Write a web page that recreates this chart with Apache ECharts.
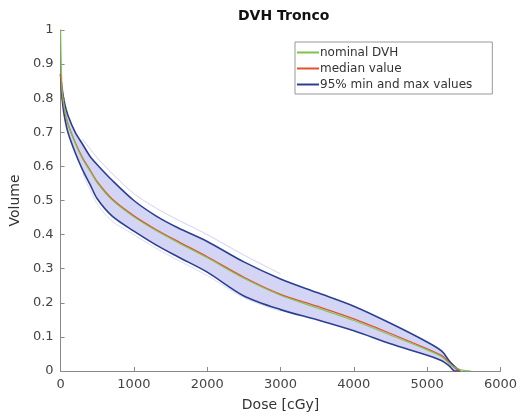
<!DOCTYPE html>
<html><head><meta charset="utf-8">
<script src="https://cdn.jsdelivr.net/npm/echarts@6/dist/echarts.min.js"></script>
<style>html,body{margin:0;padding:0;background:#fff}#c{width:520px;height:417px}</style>
</head><body><div id="c"></div>
<script>
var dose    = [0, 20, 50, 100, 200, 300, 400, 500, 700, 1000, 1300, 1600, 2000, 2500, 3000, 3500, 4000, 4500, 5000, 5200, 5300, 5380, 5450];
var upper   = [0.87, 0.83, 0.79, 0.75, 0.70, 0.665, 0.63, 0.605, 0.56, 0.50, 0.455, 0.42, 0.38, 0.32, 0.27, 0.23, 0.19, 0.14, 0.085, 0.058, 0.03, 0.012, 0];
var lower   = [0.87, 0.80, 0.75, 0.70, 0.64, 0.59, 0.548, 0.505, 0.455, 0.41, 0.37, 0.335, 0.29, 0.22, 0.18, 0.15, 0.118, 0.08, 0.046, 0.03, 0.015, 0, 0];
var median  = [0.87, 0.815, 0.77, 0.725, 0.67, 0.625, 0.59, 0.555, 0.505, 0.455, 0.415, 0.38, 0.335, 0.275, 0.225, 0.19, 0.153, 0.11, 0.065, 0.045, 0.025, 0.008, 0];
var nomDose = [0, 10, 20, 50, 100, 200, 300, 400, 500, 700, 1000, 1300, 1600, 2000, 2500, 3000, 3500, 4000, 4500, 5000, 5200, 5300, 5380, 5450, 5500, 5600];
var nominal = [1.0, 0.9, 0.83, 0.775, 0.725, 0.668, 0.622, 0.587, 0.552, 0.502, 0.452, 0.412, 0.377, 0.332, 0.272, 0.222, 0.185, 0.148, 0.105, 0.062, 0.042, 0.022, 0.01, 0.004, 0.002, 0];
var sampleDose = [300, 500, 700, 1000, 1300, 1600, 2000, 2500, 3000];
var sampleA    = [0.68, 0.625, 0.58, 0.52, 0.478, 0.443, 0.40, 0.34, 0.285];
var sampleB    = [0.58, 0.49, 0.44, 0.40, 0.36, 0.325, 0.28, 0.215, 0.175];
var xTicks = [0, 1000, 2000, 3000, 4000, 5000, 6000];
var yTicks = [0, 0.1, 0.2, 0.3, 0.4, 0.5, 0.6, 0.7, 0.8, 0.9, 1];

function pairs(xs, ys){ return xs.map(function(x,i){ return [x, ys[i]]; }); }

var FONT = 'DejaVu Sans';
var chart = echarts.init(document.getElementById('c'), null, {renderer:'canvas'});
var common = {smooth:0.3, showSymbol:false, symbol:'none'};
chart.setOption({
  animation:false,
  backgroundColor:'#fff',
  title:{text:'DVH Tronco', left:233, top:4,
    textStyle:{fontFamily:FONT, fontSize:14, fontWeight:'bold', color:'#111'}},
  legend:{
    orient:'vertical', left:295, top:42,
    data:['nominal DVH','median value','95% min and max values'],
    icon:'rect', itemWidth:22, itemHeight:2, itemGap:3,
    padding:[4,20,3,2], borderColor:'#999', borderWidth:1,
    textStyle:{fontFamily:FONT, fontSize:12, lineHeight:13, color:'#333', padding:[0,0,0,-4]}
  },
  grid:{left:60, right:17, top:30, bottom:41},
  xAxis:{type:'value', min:0, max:6000, interval:1000,
    name:'Dose [cGy]', nameLocation:'middle', nameGap:27,
    nameTextStyle:{fontFamily:FONT, fontSize:14, color:'#333'},
    axisLine:{lineStyle:{color:'#888'}}, axisTick:{inside:true, length:4, lineStyle:{color:'#888'}},
    axisLabel:{fontFamily:FONT, fontSize:13, color:'#444', margin:7,
      formatter:function(v){ return xTicks.indexOf(v)>=0 ? String(v) : ''; }},
    splitLine:{show:false}},
  yAxis:{type:'value', min:0, max:1, interval:0.1,
    name:'Volume', nameLocation:'middle', nameGap:32,
    nameTextStyle:{fontFamily:FONT, fontSize:14, color:'#333'},
    axisLine:{show:true, lineStyle:{color:'#888'}}, axisTick:{show:true, inside:true, length:4, lineStyle:{color:'#888'}},
    axisLabel:{fontFamily:FONT, fontSize:13, color:'#444', margin:7,
      formatter:function(v){ var s = Math.round(v*10)/10; return yTicks.indexOf(s)>=0 ? String(s) : ''; }},
    splitLine:{show:false}},
  series:[
    {type:'custom', name:'band', silent:true, z:1, data:[[0,0]],
      renderItem:function(params, api){
        if (params.dataIndex > 0) return;
        var pts = [];
        for (var i=0;i<dose.length;i++) pts.push(api.coord([dose[i], upper[i]]));
        for (var j=dose.length-1;j>=0;j--) pts.push(api.coord([dose[j], lower[j]]));
        return {type:'polygon', shape:{points:pts, smooth:0.3},
          style:{fill:'rgba(160,160,230,0.45)', stroke:null}};
      }},
    Object.assign({type:'line', name:'sampleA', data:pairs(sampleDose, sampleA),
      lineStyle:{color:'rgba(150,150,235,0.45)', width:1}, z:2}, common),
    Object.assign({type:'line', name:'sampleB', data:pairs(sampleDose, sampleB),
      lineStyle:{color:'rgba(150,150,235,0.35)', width:1}, z:2}, common),
    Object.assign({type:'line', name:'95% min and max values', data:pairs(dose, upper),
      color:'#2b3f92', lineStyle:{color:'#2b3f92', width:1.6}, z:3}, common),
    Object.assign({type:'line', name:'95% min and max values', data:pairs(dose, lower),
      color:'#2b3f92', lineStyle:{color:'#2b3f92', width:1.6}, z:3}, common),
    Object.assign({type:'line', name:'median value', data:pairs(dose, median),
      color:'#e0532b', lineStyle:{color:'#e0532b', width:1.3}, z:4}, common),
    Object.assign({type:'line', name:'nominal DVH', data:pairs(nomDose, nominal),
      color:'#7cc24c', lineStyle:{color:'#7cc24c', width:1.2, opacity:0.9}, z:5}, common)
  ]
});
</script></body></html>
